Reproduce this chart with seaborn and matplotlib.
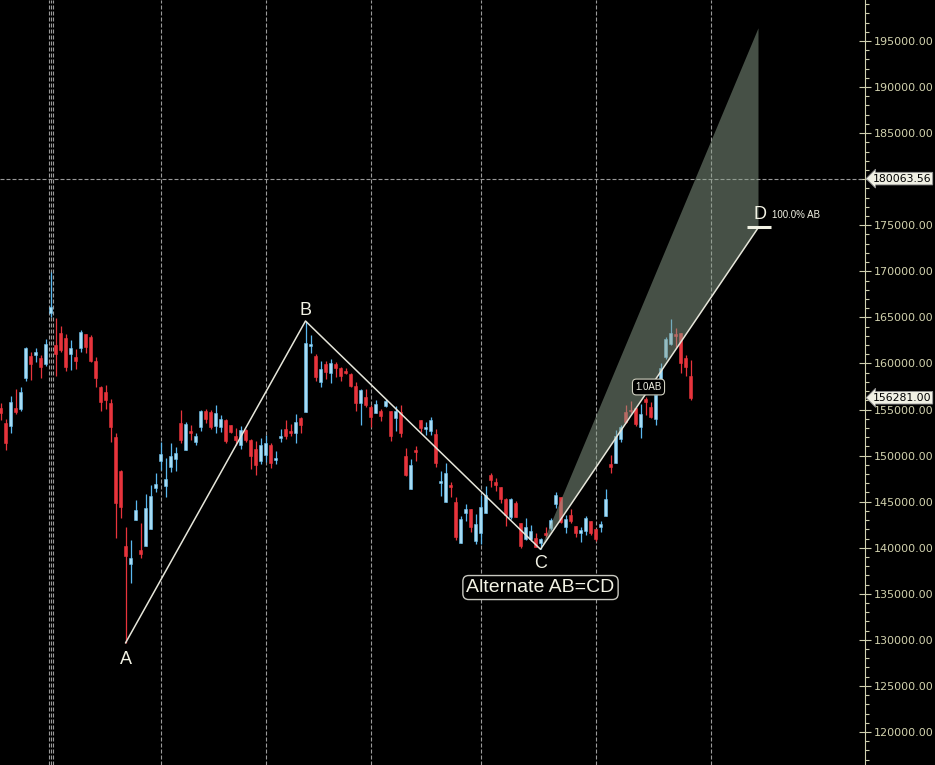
import numpy as np
import pandas as pd
import matplotlib
matplotlib.use("Agg")
import matplotlib.pyplot as plt
import matplotlib.transforms as mtransforms
import seaborn as sns

# ---- candle data ----
opens = [155133, 153505, 153245, 155133, 155057, 158389, 160810, 160918, 160593, 159941,
         165509, 162004, 163274, 162763, 161027, 160701, 161678, 163198, 162905, 160267,
         157478, 156902, 155741, 152018, 148360, 140187, 138233, 143042, 139753, 140220,
         142065, 146482, 149446, 146700, 148794, 149663, 153570, 150640, 152669, 151508,
         153136, 154840, 154732, 153212, 153136, 153863, 153320, 152127, 151150, 152778,
         151692, 150716, 149413, 150064, 151150, 149522, 151909, 152886, 152669, 152452,
         154080, 154764, 161895, 160810, 158020, 159941, 158997, 159941, 159475, 159214,
         158856, 157554, 155676, 156327, 155242, 154656, 154873, 155383, 154840, 154113,
         154764, 149956, 146407, 150607, 153863, 152854, 152702, 152344, 147058, 144995,
         146808, 144995, 140545, 143736, 144203, 140762, 141566, 143736, 147893, 147166,
         146624, 145289, 143302, 144887, 142651, 140914, 140914, 141055, 140545, 141631,
         142108, 144746, 145473, 142282, 143552, 142358, 141566, 141848, 142901, 142000,
         142282, 143476, 149087, 149250, 151768, 154764, 154949, 155133, 153136, 156175,
         155307, 153939, 157662, 160734, 162080, 163165, 163274, 160560, 158639]
highs = [155676, 153939, 156468, 157195, 157445, 161754, 161211, 161645, 160886, 162655,
         169895, 164902, 164066, 163198, 162546, 161570, 163632, 163198, 163122, 160669,
         157586, 157662, 156143, 152452, 148436, 142282, 140838, 145180, 142684, 145831,
         146776, 148078, 151443, 149706, 151367, 150933, 154949, 153646, 153320, 152452,
         154949, 155057, 154981, 155491, 154406, 153939, 153320, 152995, 153212, 152886,
         151801, 151584, 151909, 152235, 151399, 150498, 152886, 153863, 153429, 154514,
         154221, 164609, 163089, 161027, 160267, 160267, 160484, 160158, 159583, 159507,
         158932, 157988, 157261, 157195, 155491, 156034, 155090, 156110, 154840, 155383,
         155459, 150824, 149630, 151041, 153863, 153614, 154221, 152886, 148328, 149163,
         147134, 145538, 143443, 144746, 144203, 143660, 145723, 146700, 148143, 147535,
         146624, 145430, 145430, 145071, 142651, 143194, 142466, 141631, 141088, 142217,
         143194, 146081, 145473, 143552, 144171, 142358, 142217, 143443, 142901, 142000,
         142901, 146342, 150064, 152778, 153288, 155459, 155925, 155133, 155567, 156392,
         155784, 156577, 160017, 162905, 164826, 163816, 163339, 160918, 160376]
lows = [153863, 150607, 152485, 154514, 154873, 158129, 158205, 160191, 158454, 159724,
        165010, 158672, 161244, 159214, 159290, 159399, 161244, 161135, 160126, 157445,
        154873, 155090, 151475, 141088, 143259, 129659, 136204, 143009, 138917, 140220,
        142065, 146048, 148469, 145538, 148252, 148360, 151399, 150640, 151692, 151150,
        152702, 153570, 152919, 152485, 152593, 151399, 152420, 151150, 150716, 151508,
        148545, 147893, 149087, 149305, 148686, 149087, 151475, 151801, 152127, 151367,
        152452, 154764, 161135, 158129, 157478, 158346, 157912, 158563, 158129, 158856,
        157412, 154873, 153353, 155307, 153136, 154590, 153787, 155274, 151616, 152702,
        151985, 147818, 146407, 149446, 152593, 152268, 152268, 148794, 145647, 144995,
        145538, 140838, 140480, 142933, 141739, 140372, 140372, 143736, 146624, 146189,
        144887, 142390, 143118, 143302, 139938, 140838, 140762, 140046, 139829, 141131,
        141924, 144279, 142716, 141631, 142651, 141131, 140589, 141381, 141381, 140762,
        141739, 143476, 148143, 149163, 151508, 153505, 154590, 153212, 151877, 154406,
        154113, 153320, 157412, 160452, 162004, 161819, 158997, 158639, 156034]
closes = [154590, 151399, 155849, 154764, 156902, 161678, 159974, 161211, 159648, 162112,
          166096, 161027, 161461, 159648, 161678, 160300, 163415, 161819, 160300, 158454,
          155784, 156034, 153071, 144887, 144453, 139134, 138885, 144095, 139319, 144312,
          145614, 146917, 150173, 147459, 149956, 150281, 151692, 153429, 152452, 152127,
          154840, 153939, 153136, 154623, 153972, 151584, 152561, 151692, 152778, 151692,
          149956, 148979, 151150, 151367, 149196, 149739, 152127, 152127, 152452, 153646,
          153353, 162253, 162112, 158563, 159399, 159106, 160083, 159540, 158672, 158997,
          157586, 155676, 157119, 155524, 154221, 155600, 154297, 155925, 152159, 154840,
          152420, 147893, 148979, 150423, 152962, 153136, 153863, 149163, 147242, 148143,
          146559, 141131, 143118, 144203, 142282, 142575, 144453, 145723, 147318, 146808,
          145289, 143552, 145289, 143335, 140187, 142282, 141815, 140111, 140980, 141349,
          143009, 145690, 142825, 143150, 142901, 141566, 141924, 143194, 141566, 140947,
          142575, 145289, 148794, 152127, 153136, 153679, 154840, 153396, 154482, 155849,
          154221, 156577, 159475, 162622, 163339, 162981, 160017, 159648, 156281]

# pattern pivots (bar index, price)
pivot_labels = ["A", "B", "C"]
pivot_idx = [25, 61, 108]
pivot_price = [129659, 164609, 139829]
d_idx = 151.6
d_ratio = 1.0
ext_ratio = 1.618

# vertical date separators (bar index) and crosshair price
vgrid_idx = [9.6, 10.0, 10.4, 32, 53, 74, 96, 119, 142]
crosshair_price = 180063.56
last_price = 156281.00
y_ticks = list(range(120000, 200000, 5000))

# ---- style ----
sns.set_theme(style="dark", rc={"axes.facecolor": "black", "figure.facecolor": "black",
                                "axes.edgecolor": "#d0d0b0", "grid.color": "black"})
plt.rcParams["font.family"] = ["Liberation Sans", "DejaVu Sans"]

fig = plt.figure(figsize=(9.35, 7.65), dpi=100)
ax = fig.add_axes([0, 0, 865 / 935, 1])
ax.set_facecolor("black")

df = pd.DataFrame({"open": opens, "high": highs, "low": lows, "close": closes})
df["idx"] = np.arange(len(df))
up = df["close"] >= df["open"]

dash = (0, (3.6, 1.8))
for gx in vgrid_idx:
    ax.axvline(gx, color="#9a9a9a", lw=0.8, ls=dash, zorder=1)
ax.axhline(crosshair_price, color="#9a9a9a", lw=0.8, ls=dash, zorder=1)

# wicks + bodies
wick_col = np.where(up, "#5ab8f0", "#e8343c")
body_col = np.where(up, "#a6dcf5", "#e8343c")
edge_col = np.where(up, "#6cc2f0", "#e8343c")
ax.vlines(df["idx"], df["low"], df["high"], colors=wick_col, lw=0.9, zorder=2)
body_lo = np.minimum(df["open"], df["close"])
body_h = np.maximum(np.abs(df["close"] - df["open"]), 120)
ax.bar(df["idx"], body_h, bottom=body_lo, width=0.6, color=body_col,
       edgecolor=edge_col, linewidth=0.4, zorder=3)

# AB=CD projection
ab = pivot_price[1] - pivot_price[0]
d_price = pivot_price[2] + d_ratio * ab
top_price = pivot_price[2] + ext_ratio * ab
ax.fill([pivot_idx[2], d_idx, d_idx], [pivot_price[2], top_price, d_price],
        color="#8ca08c", alpha=0.5, lw=0, zorder=4)

zig = pd.DataFrame({"x": pivot_idx + [d_idx], "y": pivot_price + [d_price]})
sns.lineplot(data=zig, x="x", y="y", sort=False, color="#e6e6da", lw=1.1, ax=ax, zorder=5)

txt_col = "#f2f2e4"
ax.text(pivot_idx[0], pivot_price[0] - 900, "A", color=txt_col, fontsize=13, ha="center", va="top", zorder=6)
ax.text(pivot_idx[1], pivot_price[1] + 250, "B", color=txt_col, fontsize=13, ha="center", va="bottom", zorder=6)
ax.text(pivot_idx[2], pivot_price[2] - 650, "C", color=txt_col, fontsize=13, ha="center", va="top", zorder=6)
ax.text(pivot_idx[2], pivot_price[2] - 4150, "Alternate AB=CD", color=txt_col, fontsize=14,
        ha="center", va="center", zorder=6,
        bbox=dict(boxstyle="round,pad=0.18,rounding_size=0.3", fc="black", ec="#c8c8c0", lw=1))

# D marker
ax.hlines(d_price, d_idx - 2.4, d_idx + 2.4, color="#f2f2e4", lw=2.2, zorder=6)
ax.text(d_idx + 0.3, d_price + 500, "D", color=txt_col, fontsize=13, ha="center", va="bottom", zorder=6)
ax.text(d_idx + 2.8, d_price + 1350, "100.0% AB", color=txt_col, fontsize=7, ha="left", va="center", zorder=6)

# 1.0AB label on the CD leg
ax.text(129.6, 157445, "1.0AB", color=txt_col, fontsize=7, ha="center", va="center", zorder=6,
        bbox=dict(boxstyle="round,pad=0.3,rounding_size=0.4", fc="black", ec="#d0d0c0", lw=0.8))

# axes
ax.set_xlim(-0.1, 172.9)
ax.set_ylim(116417, 199450)
ax.set_xticks([])
ax.yaxis.tick_right()
ax.set_yticks(y_ticks)
# the 180000 label sits under the crosshair price tag
ax.set_yticklabels(["" if v == 180000 else f"{v:.2f}" for v in y_ticks])
ax.set_yticks(np.arange(117000, 200000, 1000), minor=True)
ax.tick_params(axis="y", which="major", direction="inout", length=8, width=0.8,
               colors="#d0d0b0", labelsize=8, pad=2, right=True, left=False)
ax.tick_params(axis="y", which="minor", direction="out", length=3, width=0.8,
               colors="#d0d0b0", right=True, left=False)
for lab in ax.get_yticklabels():
    lab.set_family("DejaVu Sans")
    lab.set_color("#d2d2ae")
for s in ["left", "top", "bottom"]:
    ax.spines[s].set_visible(False)
ax.spines["right"].set_color("#d0d0b0")
ax.spines["right"].set_linewidth(0.8)
ax.grid(False)
ax.set_xlabel("")
ax.set_ylabel("")

# price tags on the axis
trans = mtransforms.blended_transform_factory(ax.transAxes, ax.transData)
for p in [crosshair_price, last_price]:
    ax.text(1.009, p, f"{p:.2f}", transform=trans, ha="left", va="center", fontsize=7.8,
            family="DejaVu Sans", color="black", clip_on=False, zorder=7,
            bbox=dict(boxstyle="larrow,pad=0.12", fc="#f0f0e4", ec="#909090", lw=0.6))

fig.savefig("out.png", dpi=100, facecolor="black")
